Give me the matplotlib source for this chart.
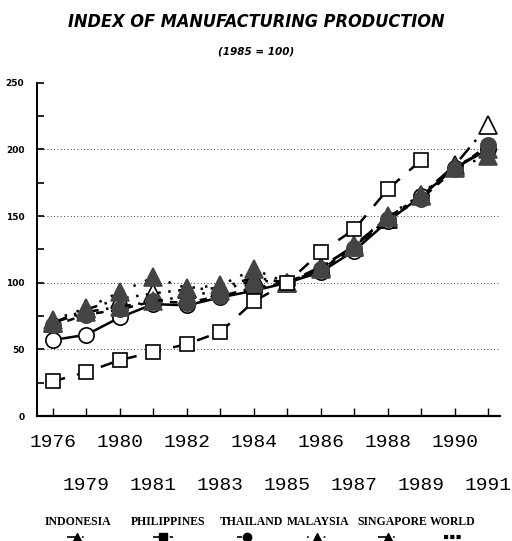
import matplotlib
matplotlib.use("Agg")
import matplotlib.pyplot as plt
from matplotlib.lines import Line2D
import numpy as np

years = ["1976", "1979", "1980", "1981", "1982", "1983", "1984",
         "1985", "1986", "1987", "1988", "1989", "1990", "1991"]

indonesia = [70, 80, 88, 92, 95, 96, 104, 100, 112, 127, 148, 166, 188, 218]
philippines = [26, 33, 42, 48, 54, 63, 86, 100, 123, 140, 170, 192, np.nan, np.nan]
thailand = [68, 76, 80, 86, 85, 90, 96, 100, 110, 126, 148, 163, 185, 203]
malaysia = [72, 81, 93, 104, 96, 98, 110, 100, 110, 127, 150, 166, 186, 195]
singapore = [70, 78, 82, 86, 90, 94, 102, 100, 111, 128, 149, 165, 187, 200]
world = [57, 61, 74, 84, 83, 89, 94, 100, 108, 124, 146, 165, 186, 200]

legend_names = ["INDONESIA", "PHILIPPINES", "THAILAND", "MALAYSIA", "SINGAPORE", "WORLD"]

fill = "#444444"
styles = {
    "INDONESIA": dict(marker="^", mfc="white", mec="black", ls=(0, (6, 3, 1, 3)), ms=13),
    "PHILIPPINES": dict(marker="s", mfc="white", mec="black", ls=(0, (5, 5)), ms=10),
    "THAILAND": dict(marker="o", mfc=fill, mec=fill, ls=(0, (3, 3)), ms=11),
    "MALAYSIA": dict(marker="^", mfc=fill, mec=fill, ls=(0, (1, 4)), ms=13),
    "SINGAPORE": dict(marker="^", mfc=fill, mec=fill, ls=(0, (6, 3, 1, 3)), ms=13),
    "WORLD": dict(marker="o", mfc="white", mec="black", ls="-", ms=11),
}
series = {"INDONESIA": indonesia, "PHILIPPINES": philippines, "THAILAND": thailand,
          "MALAYSIA": malaysia, "SINGAPORE": singapore, "WORLD": world}

fig = plt.figure(figsize=(5.12, 5.41), dpi=100)
ax = fig.add_axes([0.072, 0.231, 0.905, 0.616])

x = np.arange(len(years))
order = ["INDONESIA", "WORLD", "THAILAND", "SINGAPORE", "MALAYSIA", "PHILIPPINES"]
for name in order:
    st = styles[name]
    ax.plot(x, series[name], color="black", lw=1.8, linestyle=st["ls"],
            marker=st["marker"], markersize=st["ms"], markerfacecolor=st["mfc"],
            markeredgecolor=st["mec"], markeredgewidth=1.2)

ax.set_xlim(-0.48, 13.36)
ax.set_ylim(0, 250)
ax.set_yticks([0, 50, 100, 150, 200, 250])
ax.set_yticks([25, 75, 125, 175, 225], minor=True)
ax.set_yticklabels(["0", "50", "100", "150", "200", "250"], fontsize=6.5, fontweight="bold")
ax.tick_params(axis="y", which="both", direction="in", length=5, width=1.2, pad=9)
for yv in [50, 100, 150, 200]:
    ax.axhline(yv, color="black", lw=0.6, ls=(0, (1, 3)), zorder=0)

ax.set_xticks(x)
ax.set_xticklabels(years, fontsize=14, family="Liberation Mono")
ax.tick_params(axis="x", direction="in", length=6, width=1.0, pad=13)
for i, tick in enumerate(ax.xaxis.get_major_ticks()):
    if i % 2 == 1:
        tick.set_pad(44)

for side in ["top", "right"]:
    ax.spines[side].set_visible(False)
ax.spines["left"].set_linewidth(1.4)
ax.spines["bottom"].set_linewidth(1.6)

fig.text(0.5, 1 - 22 / 541, "INDEX OF MANUFACTURING PRODUCTION", ha="center", va="center",
         fontsize=13, fontweight="bold", style="italic", fontstretch="condensed")
fig.text(0.5, 1 - 52 / 541, "(1985 = 100)", ha="center", va="center",
         fontsize=7.5, fontweight="bold", style="italic")

# legend: labels with small line samples underneath
label_x = [78, 168, 252, 318, 392, 453]
handle_x = [77, 163, 247, 317, 388, 453]
for name, lx, hx in zip(legend_names, label_x, handle_x):
    fig.text(lx / 512, 1 - 522 / 541, name, ha="center", va="center",
             fontsize=8.5, fontweight="bold", family="Liberation Serif")
    st = styles[name]
    hy = 1 - 537 / 541
    if name == "WORLD":
        fig.add_artist(Line2D([(hx - 9) / 512, (hx + 9) / 512], [hy, hy], color="black",
                              lw=3, ls=(0, (1, 0.5)), transform=fig.transFigure))
    else:
        fig.add_artist(Line2D([(hx - 10) / 512, hx / 512, (hx + 10) / 512], [hy, hy, hy],
                              color="black", lw=1.2, ls=st["ls"], marker=st["marker"],
                              markevery=[1], markersize=6, markerfacecolor="black",
                              markeredgecolor="black", transform=fig.transFigure))

fig.savefig("out.png", dpi=100)
